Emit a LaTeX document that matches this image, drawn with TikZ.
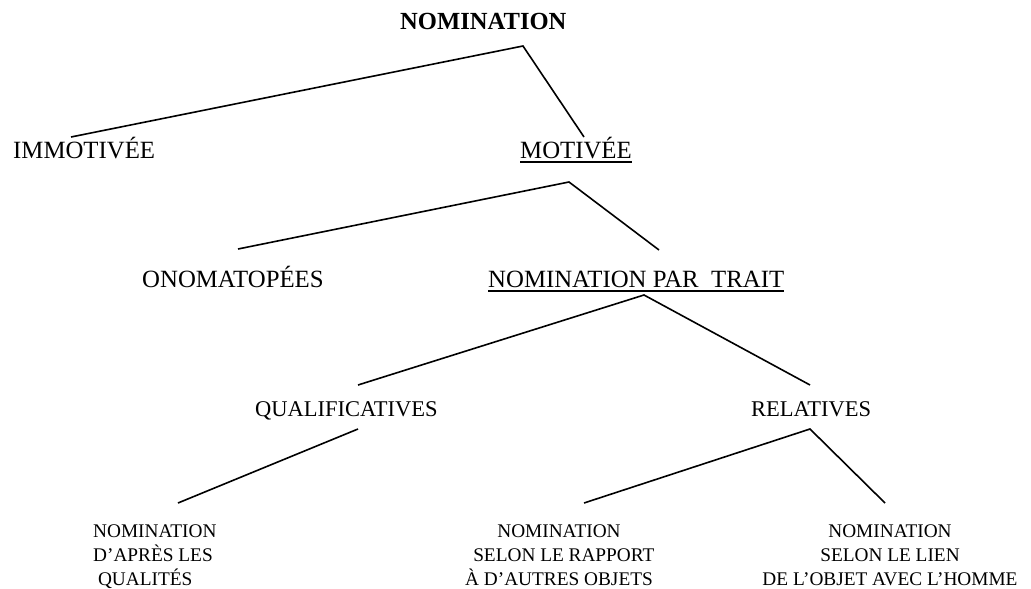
\documentclass[tikz,border=0pt]{standalone}
\usepackage{fontspec}
\setmainfont{Liberation Serif}
\usepackage{tikz}

\begin{document}
\begin{tikzpicture}[x=1pt,y=-1pt,
  lbl/.style={inner sep=0pt,anchor=base west,font=\fontsize{24.8}{29}\selectfont},
  lblsmall/.style={inner sep=0pt,anchor=base west,font=\fontsize{22.5}{27}\selectfont},
  leafbox/.style={inner sep=0pt,anchor=north,align=center,font=\fontsize{19.3}{24}\selectfont},
  branch/.style={line width=1.6pt},
  uline/.style={line width=1.8pt}]
      \useasboundingbox (0,0) rectangle (1031,589);
      \node[lbl,font=\fontsize{24.6}{29}\selectfont\bfseries](root) at (400,29){NOMINATION};
      \node[lbl](immot) at (13,158){IMMOTIVÉE};
      \node[lbl](motiv) at (520,158){MOTIVÉE};
      \node[lbl](onom) at (142,287){ONOMATOPÉES};
      \node[lbl](trait) at (488,287){NOMINATION PAR\ \ TRAIT};
      \node[lblsmall](qualif) at (255,416){QUALIFICATIVES};
      \node[lblsmall](relat) at (751,416){RELATIVES};
      \node[leafbox,anchor=north west,align=left](qual) at (93,525){NOMINATION\\D’APRÈS LES\\\hspace*{0.25em}QUALITÉS};
      \node[leafbox](rapport) at (559,525){NOMINATION\\\hspace*{0.5em}SELON LE RAPPORT\\À D’AUTRES OBJETS};
      \node[leafbox](lien) at (890,525){NOMINATION\\SELON LE LIEN\\DE L’OBJET AVEC L’HOMME};
      \draw[uline] ([yshift=-4pt]motiv.base west) -- ([yshift=-4pt]motiv.base east);
      \draw[uline] ([yshift=-4pt]trait.base west) -- ([yshift=-4pt]trait.base east);
      \coordinate (root-a) at (523,46);
      \coordinate (immot-t) at (71,137);
      \coordinate (motiv-t) at (584,137);
      \coordinate (motiv-a) at (569,182);
      \coordinate (onom-t) at (238,249);
      \coordinate (trait-t) at (659,250);
      \coordinate (trait-a) at (644,295);
      \coordinate (qualif-t) at (358,385);
      \coordinate (relat-t) at (810,385);
      \coordinate (qualif-a) at (358,429);
      \coordinate (relat-a) at (810,429);
      \coordinate (qual-t) at (178,503);
      \coordinate (rapport-t) at (584,503);
      \coordinate (lien-t) at (885,503);
      \draw[branch] (immot-t) -- (root-a) -- (motiv-t);
      \draw[branch] (onom-t) -- (motiv-a) -- (trait-t);
      \draw[branch] (qualif-t) -- (trait-a) -- (relat-t);
      \draw[branch] (qual-t) -- (qualif-a);
      \draw[branch] (rapport-t) -- (relat-a) -- (lien-t);
\end{tikzpicture}
\end{document}
